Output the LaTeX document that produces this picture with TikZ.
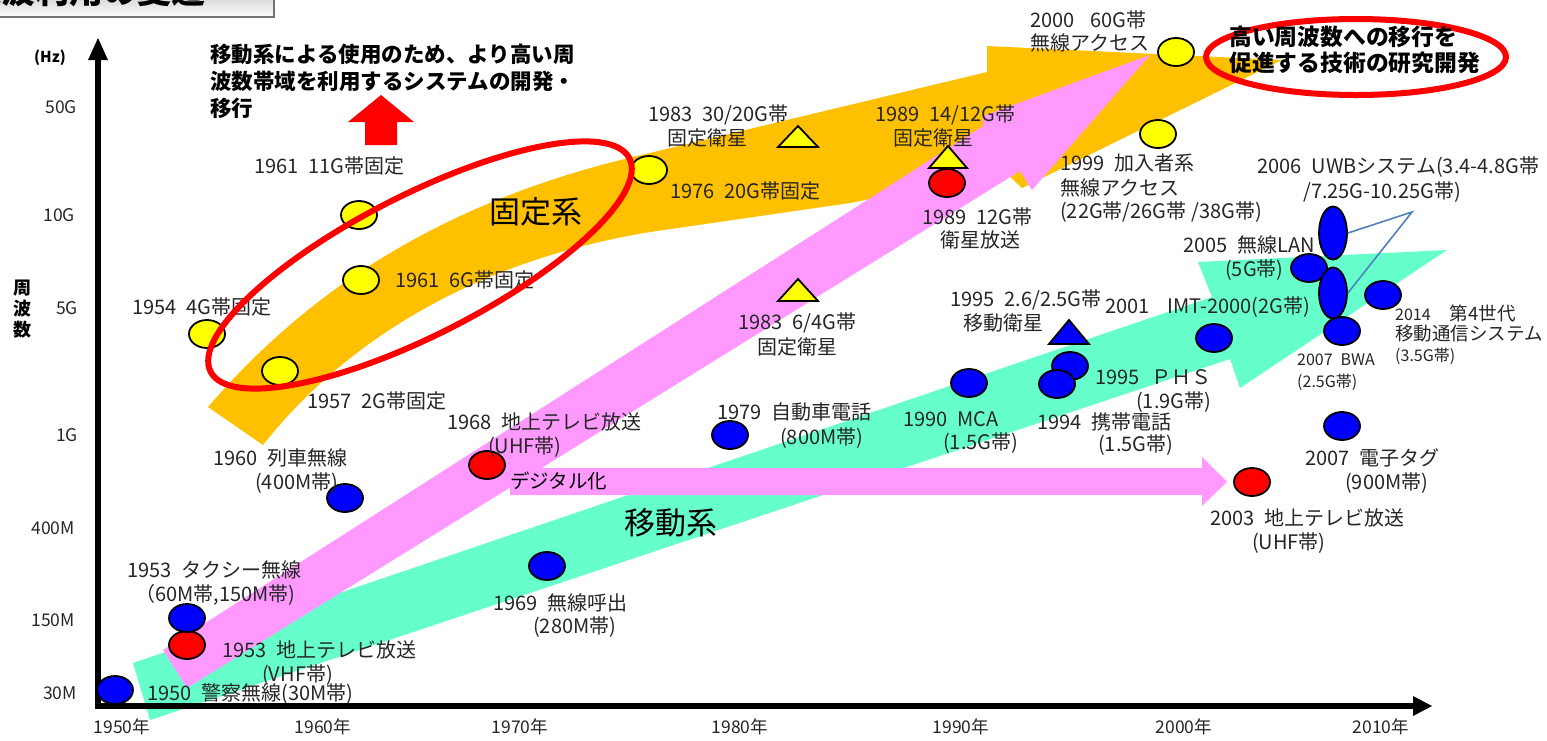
\documentclass[tikz,border=0pt]{standalone}
\usepackage{fontspec}
\setmainfont{Noto Sans CJK JP}
\usetikzlibrary{shapes.geometric}
\definecolor{bandorange}{HTML}{FFC000}
\definecolor{bandpink}{HTML}{FF99FF}
\definecolor{bandmint}{HTML}{66FFCC}
\definecolor{mkyellow}{HTML}{FFFF00}
\definecolor{mkblue}{HTML}{0000FF}
\definecolor{mkred}{HTML}{FF0000}
\definecolor{uwbblue}{HTML}{4F81BD}
\definecolor{labelgray}{HTML}{262626}
\begin{document}
\begin{tikzpicture}[x=1pt,y=-1pt,
  mk/.style={ellipse, draw=black, line width=1.8pt, inner sep=0pt, minimum width=36pt, minimum height=28pt},
  yel/.style={mk, fill=mkyellow},
  blu/.style={mk, fill=mkblue},
  rd/.style={mk, fill=mkred},
  tri/.style={draw=black, line width=1.8pt, line join=miter},
  lbl/.style={anchor=west, inner sep=0pt, text=labelgray, font=\fontsize{20}{23}\selectfont},
  slbl/.style={lbl, font=\fontsize{16}{19}\selectfont},
  mlbl/.style={lbl, font=\fontsize{18.5}{21}\selectfont},
  ticklbl/.style={inner sep=0pt, text=labelgray, font=\fontsize{17.5}{21}\selectfont},
  biglbl/.style={inner sep=0pt, text=black, font=\fontsize{31}{34}\selectfont},
  boldtxt/.style={anchor=west, inner sep=0pt, text=black, font=\bfseries\fontsize{21.5}{24}\selectfont},
  redring/.style={draw=mkred, line width=6pt},
  axisline/.style={line width=5.5pt, line join=miter},
  uwbline/.style={draw=uwbblue, line width=1.6pt}
]
\useasboundingbox (0,0) rectangle (1547,740);
\fill[white] (0,0) rectangle (1547,740);

% title box (cut off at top)
\begin{scope}
\clip (0,0) rectangle (300,30);
\shade[top color=black!30, bottom color=white] (-4,-20) rectangle (274,17);
\draw[black!55, line width=1.5pt] (-4,-20) rectangle (274,17);
\node[anchor=base east, inner sep=0pt, font=\bfseries\fontsize{34}{34}\selectfont] (title) at (206,3) {電波利用の変遷};
\end{scope}

% bands
\fill[bandmint] (133,663) -- (1212,297) -- (1198,262) -- (1447,250) -- (1240,388) -- (1230,359) -- (150,720) -- cycle;
\fill[bandorange] (208,407) .. controls (300,300) and (430,205) .. (633,157) -- (987,72) -- (987,46) -- (1282,60) -- (1022,188) -- (1005,172) -- (850,203) -- (650,232) .. controls (450,265) and (330,360) .. (263,445) -- cycle;
\fill[bandpink] (163,650) -- (983,126) -- (983,116) -- (1150,55) -- (1032,190) -- (1020,171) -- (187,688) -- cycle;
\fill[bandpink] (510,468) -- (1202,468) -- (1202,457) -- (1227,482) -- (1202,506) -- (1202,495) -- (510,495) -- cycle;

% axes
\draw[axisline] (98,58) -- (98,706) -- (1414,706);
\fill (98,38) -- (108,60) -- (88,60) -- cycle;
\fill (1432,706) -- (1413,696) -- (1413,716) -- cycle;

% axis labels
\node[inner sep=0pt, font=\bfseries\fontsize{15}{18}\selectfont] (hz) at (50,58) {(Hz)};
\node[inner sep=0pt, align=center, font=\bfseries\fontsize{18}{21}\selectfont] (freq) at (22,309) {周\\波\\数};
\node[ticklbl, anchor=east] (t50g) at (77,107) {50G};
\node[ticklbl, anchor=east] (t10g) at (75,215) {10G};
\node[ticklbl, anchor=east] (t5g) at (78,308) {5G};
\node[ticklbl, anchor=east] (t1g) at (78,435) {1G};
\node[ticklbl, anchor=east] (t400m) at (75,528) {400M};
\node[ticklbl, anchor=east] (t150m) at (75,620) {150M};
\node[ticklbl, anchor=east] (t30m) at (77,693) {30M};
\node[ticklbl] (y1950) at (122,727) {1950年};
\node[ticklbl] (y1960) at (323,727) {1960年};
\node[ticklbl] (y1970) at (520,727) {1970年};
\node[ticklbl] (y1980) at (740,727) {1980年};
\node[ticklbl] (y1990) at (961,727) {1990年};
\node[ticklbl] (y2000) at (1184,727) {2000年};
\node[ticklbl] (y2010) at (1381,727) {2010年};

% red up arrow and top text
\fill[mkred] (381,95) -- (414,122) -- (397,122) -- (397,145) -- (365,145) -- (365,122) -- (348,122) -- cycle;
\node[boldtxt] (top1) at (210,54) {移動系による使用のため、より高い周};
\node[boldtxt] (top2) at (210,81) {波数帯域を利用するシステムの開発・};
\node[boldtxt] (top3) at (210,108) {移行};

% pink horizontal arrow text, band titles
\node[anchor=west, inner sep=0pt, font=\fontsize{19.5}{22}\selectfont] (digital) at (510,481) {デジタル化};
\node[biglbl] (fixed) at (536,212) {固定系};
\node[biglbl] (mobile) at (671,523) {移動系};

% triangles
\filldraw[tri, fill=mkyellow] (798,126) -- (818,147) -- (778,147) -- cycle;
\filldraw[tri, fill=mkyellow] (948,146) -- (967,168) -- (929,168) -- cycle;
\filldraw[tri, fill=mkyellow] (798,279) -- (818,301) -- (778,301) -- cycle;
\filldraw[tri, fill=mkblue] (1069,320) -- (1089,344) -- (1049,344) -- cycle;

% markers
\node[yel] (y11g) at (359,215) {};
\node[yel] (y6g) at (361,280) {};
\node[yel] (y4g) at (207,334) {};
\node[yel] (y2g) at (280,371) {};
\node[yel] (y20g) at (649,170) {};
\node[yel] (y60g) at (1176,52) {};
\node[yel] (y99) at (1158,134) {};
\node[rd] (r53) at (187,645) {};
\node[rd] (r68) at (487,465) {};
\node[rd] (r89) at (947,183) {};
\node[rd] (r03) at (1252,482) {};
\node[blu] (b50) at (115,690) {};
\node[blu] (b53) at (187,618) {};
\node[blu] (b60) at (345,498) {};
\node[blu] (b69) at (547,566) {};
\node[blu] (b79) at (730,435) {};
\node[blu] (b90) at (969,383) {};
\node[blu] (b95) at (1070,366) {};
\node[blu] (b94) at (1057,384) {};
\node[blu] (b01) at (1214,338) {};
\node[blu] (b05) at (1309,268) {};
\node[blu, minimum width=28pt, minimum height=53pt] (uwb1) at (1333,233) {};
\node[blu, minimum width=28pt, minimum height=51pt] (uwb2) at (1333,293) {};
\node[blu] (b07bwa) at (1342,331) {};
\node[blu] (b14) at (1383,295) {};
\node[blu] (b07tag) at (1342,426) {};
\coordinate (uwbp) at (1412,212);
\draw[uwbline] (uwb1.east) -- (uwbp) -- (uwb2.east);

% labels
\node[lbl] (l11g) at (254,166) {1961\hspace{0.5em}11G帯固定};
\node[lbl] (l6g) at (395,280) {1961\hspace{0.5em}6G帯固定};
\node[lbl] (l4g) at (132,307) {1954\hspace{0.5em}4G帯固定};
\node[lbl] (l2g) at (307,401) {1957\hspace{0.5em}2G帯固定};
\node[lbl] (l60a) at (213,458) {1960\hspace{0.5em}列車無線};
\node[lbl] (l60b) at (255,483) {(400M帯)};
\node[lbl] (l53ta) at (127,570) {1953\hspace{0.5em}タクシー無線};
\node[lbl] (l53tb) at (135,595) {（60M帯,150M帯)};
\node[lbl] (l53va) at (222,650) {1953\hspace{0.5em}地上テレビ放送};
\node[lbl] (l53vb) at (262,675) {(VHF帯)};
\node[lbl] (l50) at (147,694) {1950\hspace{0.5em}警察無線(30M帯)};
\node[lbl] (l68a) at (447,422) {1968\hspace{0.5em}地上テレビ放送};
\node[lbl] (l68b) at (488,447) {(UHF帯)};
\node[lbl] (l69a) at (493,603) {1969\hspace{0.5em}無線呼出};
\node[lbl] (l69b) at (533,627) {(280M帯)};
\node[lbl] (l79a) at (717,412) {1979\hspace{0.5em}自動車電話};
\node[lbl] (l79b) at (780,438) {(800M帯)};
\node[lbl] (l83a) at (648,115) {1983\hspace{0.5em}30/20G帯};
\node[lbl] (l83b) at (667,138) {固定衛星};
\node[lbl] (l76) at (670,191) {1976\hspace{0.5em}20G帯固定};
\node[lbl] (l83c) at (738,323) {1983\hspace{0.5em}6/4G帯};
\node[lbl] (l83d) at (757,347) {固定衛星};
\node[lbl] (l89a) at (875,115) {1989\hspace{0.5em}14/12G帯};
\node[lbl] (l89b) at (893,138) {固定衛星};
\node[lbl] (l89c) at (922,217) {1989\hspace{0.5em}12G帯};
\node[lbl] (l89d) at (940,240) {衛星放送};
\node[lbl] (l00a) at (1030,20) {2000\hspace{0.8em}60G帯};
\node[lbl] (l00b) at (1030,43) {無線アクセス};
\node[lbl] (l99a) at (1060,163) {1999\hspace{0.5em}加入者系};
\node[lbl] (l99b) at (1060,188) {無線アクセス};
\node[lbl] (l99c) at (1060,212) {(22G帯/26G帯 /38G帯)};
\node[lbl] (l06a) at (1257,167) {2006\hspace{0.5em}UWBシステム(3.4-4.8G帯};
\node[lbl] (l06b) at (1303,192) {/7.25G-10.25G帯)};
\node[lbl] (l05a) at (1183,245) {2005\hspace{0.5em}無線LAN};
\node[lbl] (l05b) at (1225,270) {(5G帯)};
\node[lbl] (l01) at (1105,307) {2001\hspace{0.9em}IMT-2000(2G帯)};
\node[lbl] (l95a) at (950,300) {1995\hspace{0.5em}2.6/2.5G帯};
\node[lbl] (l95b) at (963,323) {移動衛星};
\node[lbl] (l90a) at (903,419) {1990\hspace{0.5em}MCA};
\node[lbl] (l90b) at (943,443) {(1.5G帯)};
\node[lbl] (l94a) at (1037,422) {1994\hspace{0.5em}携帯電話};
\node[lbl] (l94b) at (1098,445) {(1.5G帯)};
\node[lbl] (l95c) at (1095,377) {1995\hspace{0.6em}ＰＨＳ};
\node[lbl] (l95d) at (1136,402) {(1.9G帯)};
\node[slbl] (l07a) at (1297,360) {2007\hspace{0.5em}BWA};
\node[slbl] (l07b) at (1297,382) {(2.5G帯)};
\node[slbl] (l14a) at (1395,313) {2014\hspace{1.2em}{\fontsize{18.5}{21}\selectfont 第4世代}};
\node[mlbl] (l14b) at (1395,334) {移動通信システム};
\node[slbl] (l14c) at (1395,356) {(3.5G帯)};
\node[lbl] (l07c) at (1305,458) {2007\hspace{0.5em}電子タグ};
\node[lbl] (l07d) at (1345,483) {(900M帯)};
\node[lbl] (l03a) at (1210,518) {2003\hspace{0.5em}地上テレビ放送};
\node[lbl] (l03b) at (1252,543) {(UHF帯)};

% red rings
\draw[redring] (420,265) ellipse [x radius=235, y radius=70, rotate=27];
\draw[redring] (1356,57) ellipse [x radius=150, y radius=38];
\node[anchor=west, inner sep=0pt, font=\bfseries\fontsize{22.8}{25}\selectfont] (res1) at (1229,37) {高い周波数への移行を};
\node[anchor=west, inner sep=0pt, font=\bfseries\fontsize{22.8}{25}\selectfont] (res2) at (1229,63) {促進する技術の研究開発};
\end{tikzpicture}
\end{document}
